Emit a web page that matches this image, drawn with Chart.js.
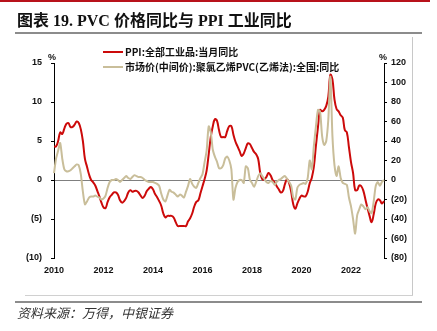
<!DOCTYPE html>
<html>
<head>
<meta charset="utf-8">
<script src="https://cdn.jsdelivr.net/npm/chart.js@4.4.1/dist/chart.umd.min.js"></script>
<style>
  html,body{margin:0;padding:0;background:#fff;}
  #wrap{position:relative;width:437px;height:331px;overflow:hidden;background:#fff;}
  #c{position:absolute;left:0;top:0;}
  .abs{position:absolute;white-space:nowrap;}
  #topbar{left:0;top:0;width:430px;height:2px;background:#b8121b;}
  #title{left:17px;top:9px;font-size:16px;font-weight:bold;color:#111;line-height:20px;
         font-family:"Liberation Serif","Noto Sans CJK SC",serif;}
  #title .cjk{font-family:"Noto Sans CJK SC",sans-serif;font-weight:bold;}
  #rule1{left:15px;top:32px;width:407px;height:2px;background:#8c8c8c;}
  #rule2{left:15px;top:301px;width:407px;height:2px;background:#8c8c8c;}
  #boxR{left:412px;top:37px;width:1px;height:259px;background:#c8c8c8;}
  #boxB{left:25px;top:295px;width:388px;height:1px;background:#d0d0d0;}
  #src{left:17px;top:304px;font-size:13px;font-style:italic;color:#333;line-height:18px;
       font-family:"Noto Sans CJK SC",sans-serif;}
  .leg{font-size:10px;font-weight:bold;color:#111;line-height:12px;font-family:"Noto Sans CJK SC","Liberation Sans",sans-serif;}
  .legline{width:20px;height:2px;}
  .pct{font-size:9px;font-weight:bold;color:#111;font-family:"Liberation Sans",sans-serif;line-height:10px;}
</style>
</head>
<body>
<div id="wrap">
  <canvas id="c" width="437" height="331"></canvas>
  <div class="abs" id="topbar"></div>
  <div class="abs" id="title"><span class="cjk">图表</span> 19. PVC <span class="cjk">价格同比与</span> PPI <span class="cjk">工业同比</span></div>
  <div class="abs" id="rule1"></div>
  <div class="abs" id="boxR"></div>
  <div class="abs" id="boxB"></div>
  <div class="abs" id="rule2"></div>
  <div class="abs" id="src">资料来源：万得，中银证券</div>
  <div class="abs legline" style="left:103px;top:51px;background:#cc0a0a;"></div>
  <div class="abs leg" style="left:125px;top:46px;">PPI:全部工业品:当月同比</div>
  <div class="abs legline" style="left:103px;top:66px;background:#c9be9a;"></div>
  <div class="abs leg" style="left:125px;top:61px;">市场价(中间价):聚氯乙烯PVC(乙烯法):全国:同比</div>
  <div class="abs pct" style="left:48px;top:52px;">%</div>
  <div class="abs pct" style="left:379px;top:52px;">%</div>
</div>
<script>
// Categories: monthly, Aug 2010 .. Dec 2023
const startYear = 2010, startMonth = 8, monthCount = 161;
const months = [];
for (let i = 0; i < monthCount; i++) {
  const m = startMonth - 1 + i;
  const y = startYear + Math.floor(m / 12);
  const mm = (m % 12) + 1;
  months.push(y + '-' + (mm < 10 ? '0' : '') + mm);
}

// PPI: all industrial products, YoY (%), left axis
const ppi = [
  4.3, 4.3, 5.0, 6.1, 5.9,
  6.6, 7.2, 7.3, 6.8, 6.8, 7.1, 7.5, 7.3, 6.5, 5.0, 2.7, 1.7,
  0.7, 0.0, -0.3, -0.7, -1.4, -2.1, -2.9, -3.5, -3.6, -2.8, -2.2, -1.9,
  -1.6, -1.6, -1.9, -2.6, -2.9, -2.7, -2.3, -1.6, -1.3, -1.5, -1.4, -1.4,
  -1.6, -2.0, -2.3, -2.0, -1.4, -1.1, -0.9, -1.2, -1.8, -2.2, -2.7, -3.3,
  -4.3, -4.8, -4.6, -4.6, -4.6, -4.8, -5.4, -5.9, -5.9, -5.9, -5.9, -5.9,
  -5.3, -4.9, -4.3, -3.4, -2.8, -2.6, -1.7, -0.8, 0.1, 1.2, 3.3, 5.5,
  6.9, 7.8, 7.6, 6.4, 5.5, 5.5, 5.5, 6.3, 6.9, 6.9, 5.8, 4.9,
  4.3, 3.7, 3.1, 3.4, 4.1, 4.7, 4.6, 4.1, 3.6, 3.3, 2.7, 0.9,
  0.1, 0.1, 0.4, 0.9, 0.6, 0.0, -0.3, -0.8, -1.2, -1.6, -1.4, -0.5,
  0.1, -0.4, -1.5, -3.1, -3.7, -3.0, -2.4, -2.0, -2.1, -2.1, -1.5, -0.4,
  0.3, 1.7, 4.4, 6.8, 9.0, 8.8, 9.0, 9.5, 10.7, 13.5, 12.9, 10.3,
  9.1, 8.8, 8.3, 8.0, 6.4, 6.1, 4.2, 2.3, 0.9, -1.3, -1.3, -0.7,
  -0.8, -1.4, -2.5, -3.6, -4.6, -5.4, -4.4, -3.0, -2.5, -2.6, -3.0, -2.7
];

// PVC (ethylene method) market price YoY (%), right axis
const pvc = [
  7, 22, 30, 38, 22, 11, 9, 9, 10, 12, 14, 16, 15, 6, -12, -25, -22, -18, -17, -17,
  -16, -17, -18, -20, -19, -16, -8, -2, 0, 0,
  1, 0, -2, 0, 2, 4, 2, 1, 3, 5,
  4, 3, 3, 2, 0, -1, -2, -2, -2, -3,
  -4, -6, -14, -20, -22, -16, -10, -12, -13, -15,
  -17, -15, -16, -18, -12, -6, 1, -4, -7, -8,
  -3, 2, 6, 18, 30, 55, 49, 31, 24, 19,
  12, 12, 15, 22, 24, 20, 11, -20, -8, -2,
  0, 0, -3, 14, 12, 0, -3, -7, -2, 4,
  7, 4, 1, -2, -3, -1, -2, -5, -2, 0,
  1, 3, 4, 1, -2, -6, -18, -20, -8, -5,
  -4, -3, -4, 2, 20, 11, 35, 55, 72, 70,
  45, 36, 40, 62, 106, 45, 15, 4, 14, 2,
  -3, -4, -5, -18, -27, -40, -55, -36, -30, -25,
  -27, -30, -28, -32, -34, -22, -6, -2, -6, -2,
  0
];

const leftTicks = { min: -10, max: 15, step: 5 };
const rightTicks = { min: -80, max: 120, step: 20 };
const yearEvery = 24;

const fmtParen = v => v < 0 ? '(' + (-v) + ')' : String(v);
const tickFont = { family: 'Liberation Sans', size: 9, weight: 'bold' };

new Chart(document.getElementById('c'), {
  type: 'line',
  data: {
    labels: months,
    datasets: [
      {
        label: '市场价(中间价):聚氯乙烯PVC(乙烯法):全国:同比',
        data: pvc, yAxisID: 'yR', borderColor: '#c9be9a', borderWidth: 2,
        pointRadius: 0, tension: 0.25, order: 1
      },
      {
        label: 'PPI:全部工业品:当月同比',
        data: ppi, yAxisID: 'yL', borderColor: '#cc0a0a', borderWidth: 2,
        pointRadius: 0, tension: 0.4, order: 2
      }
    ]
  },
  options: {
    responsive: false, animation: false, devicePixelRatio: 1,
    layout: { padding: { top: 63, left: 0, right: 0, bottom: 0 } },
    plugins: { legend: { display: false }, tooltip: { enabled: false } },
    scales: {
      x: {
        type: 'category',
        grid: { display: false, drawTicks: false },
        border: { display: false },
        ticks: {
          autoSkip: false, maxRotation: 0, minRotation: 0, padding: 7,
          color: '#111', font: tickFont,
          callback: (v, i) => (i % yearEvery === 0 ? months[i].slice(0, 4) : '')
        },
        afterFit: s => { s.height = 73; }
      },
      yL: {
        position: 'left', min: leftTicks.min, max: leftTicks.max,
        ticks: { stepSize: leftTicks.step, padding: 9, color: '#111', font: tickFont, callback: v => fmtParen(v) },
        grid: {
          drawOnChartArea: true, tickLength: 3, tickColor: '#000', lineWidth: 1,
          color: ctx => (ctx.tick && ctx.tick.value === 0 ? '#7f7f7f' : 'rgba(0,0,0,0)')
        },
        border: { display: true, color: '#000', width: 1 },
        afterFit: s => { s.width = 54; }
      },
      yR: {
        position: 'right', min: rightTicks.min, max: rightTicks.max,
        ticks: { stepSize: rightTicks.step, padding: 4, color: '#111', font: tickFont, callback: v => fmtParen(v) },
        grid: { drawOnChartArea: false, tickLength: 3, tickColor: '#000' },
        border: { display: true, color: '#000', width: 1 },
        afterFit: s => { s.width = 53; }
      }
    }
  }
});
</script>
</body>
</html>
